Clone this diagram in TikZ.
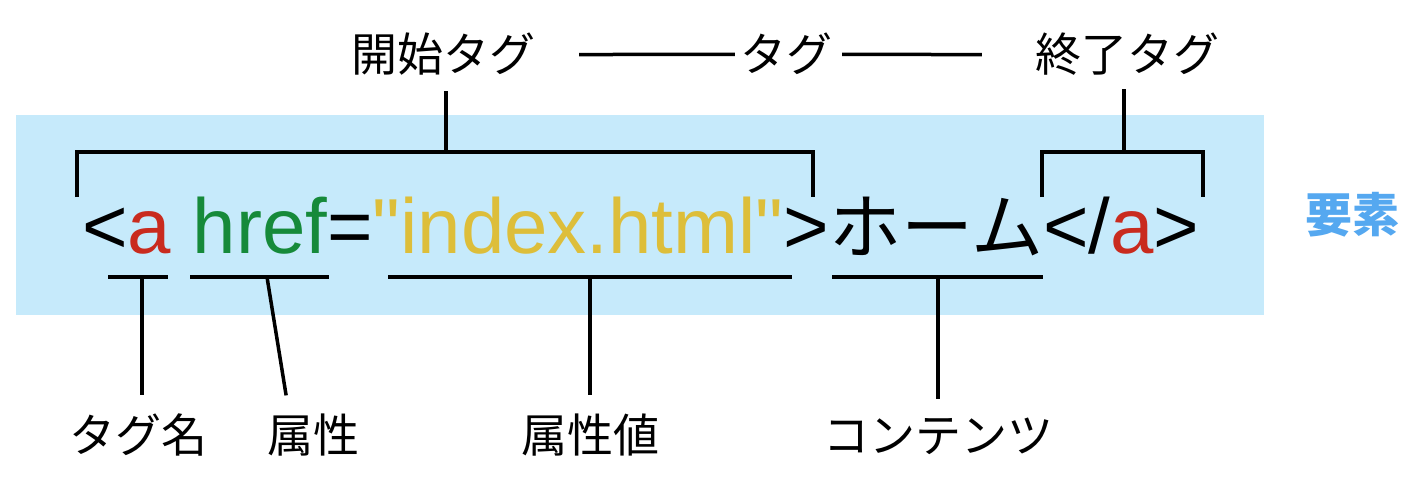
\documentclass[tikz,border=0pt]{standalone}
\usepackage{fontspec}
\setmainfont{Liberation Sans}
\newfontfamily\jpfont{Noto Sans CJK JP}
\definecolor{bgblue}{HTML}{C6EAFB}
\definecolor{tagred}{HTML}{C92B1E}
\definecolor{attrgreen}{HTML}{168A3A}
\definecolor{valyellow}{HTML}{DDBE3A}
\definecolor{elemblue}{HTML}{55A8F0}
\tikzset{
	conn/.style={line width=3.5pt},
	lbl/.style={inner sep=0pt, anchor=base, font=\jpfont\fontsize{46}{46}\selectfont},
	codetext/.style={inner sep=0pt, anchor=base west, font=\fontsize{78}{78}\selectfont},
}

\begin{document}
\begin{tikzpicture}[x=1pt,y=-1pt]
	\useasboundingbox (0,0) rectangle (1418,484);
	\fill[bgblue] (16,115) rectangle (1264,315);
	% the code line
	\node[codetext] (code) at (82,253) {<\textcolor{tagred}{a} \textcolor{attrgreen}{href}=\textcolor{valyellow}{\textquotedbl index.html\textquotedbl}>{\jpfont\fontsize{72}{72}\selectfont ホーム}</\textcolor{tagred}{a}>};
	\node[inner sep=0pt, text=elemblue, font=\jpfont\bfseries\fontsize{47}{47}\selectfont] (elem) at (1352,215) {要素};
	% labels
	\node[lbl] (opentag) at (443,72) {開始タグ};
	\node[lbl] (tag) at (786,72) {タグ};
	\node[lbl] (closetag) at (1127,72) {終了タグ};
	\node[lbl] (tagname) at (138,452) {タグ名};
	\node[lbl] (attr) at (313,452) {属性};
	\node[lbl] (attrval) at (590,452) {属性値};
	\node[lbl] (content) at (938,452) {コンテンツ};
	\draw[conn] ([xshift=44pt]opentag.east) -- ([xshift=-5pt]tag.west);
	\draw[conn] ([xshift=10pt]tag.east) -- ([xshift=-53pt]closetag.west);
	% start and end tag brackets
	\coordinate (otL) at (77,197);
	\coordinate (otM) at (446,152);
	\coordinate (otR) at (813,197);
	\draw[conn] (otL) |- (otM) -| (otR);
	\draw[conn, shorten >=15pt] (otM) -- (otM |- opentag.south);
	\coordinate (ctL) at (1042,197);
	\coordinate (ctM) at (1124,152);
	\coordinate (ctR) at (1203,197);
	\draw[conn] (ctL) |- (ctM) -| (ctR);
	\draw[conn, shorten >=13pt] (ctM) -- (ctM |- closetag.south);
	% underlines
	\coordinate (tnL) at (108,277);
	\coordinate (tnM) at (142,277);
	\coordinate (tnR) at (168,277);
	\draw[conn] (tnL) -- (tnR);
	\draw[conn, shorten >=18pt] (tnM) -- (tnM |- tagname.north);
	\coordinate (atL) at (190,277);
	\coordinate (atM) at (267,277);
	\coordinate (atR) at (329,277);
	\draw[conn] (atL) -- (atR);
	\draw[conn, shorten >=18pt] (atM) -- ([xshift=-24pt]attr.north);
	\coordinate (avL) at (388,277);
	\coordinate (avM) at (590,277);
	\coordinate (avR) at (792,277);
	\draw[conn] (avL) -- (avR);
	\draw[conn, shorten >=18pt] (avM) -- (avM |- attrval.north);
	\coordinate (cnL) at (832,277);
	\coordinate (cnM) at (938,277);
	\coordinate (cnR) at (1043,277);
	\draw[conn] (cnL) -- (cnR);
	\draw[conn, shorten >=18pt] (cnM) -- (cnM |- content.north);
\end{tikzpicture}
\end{document}
